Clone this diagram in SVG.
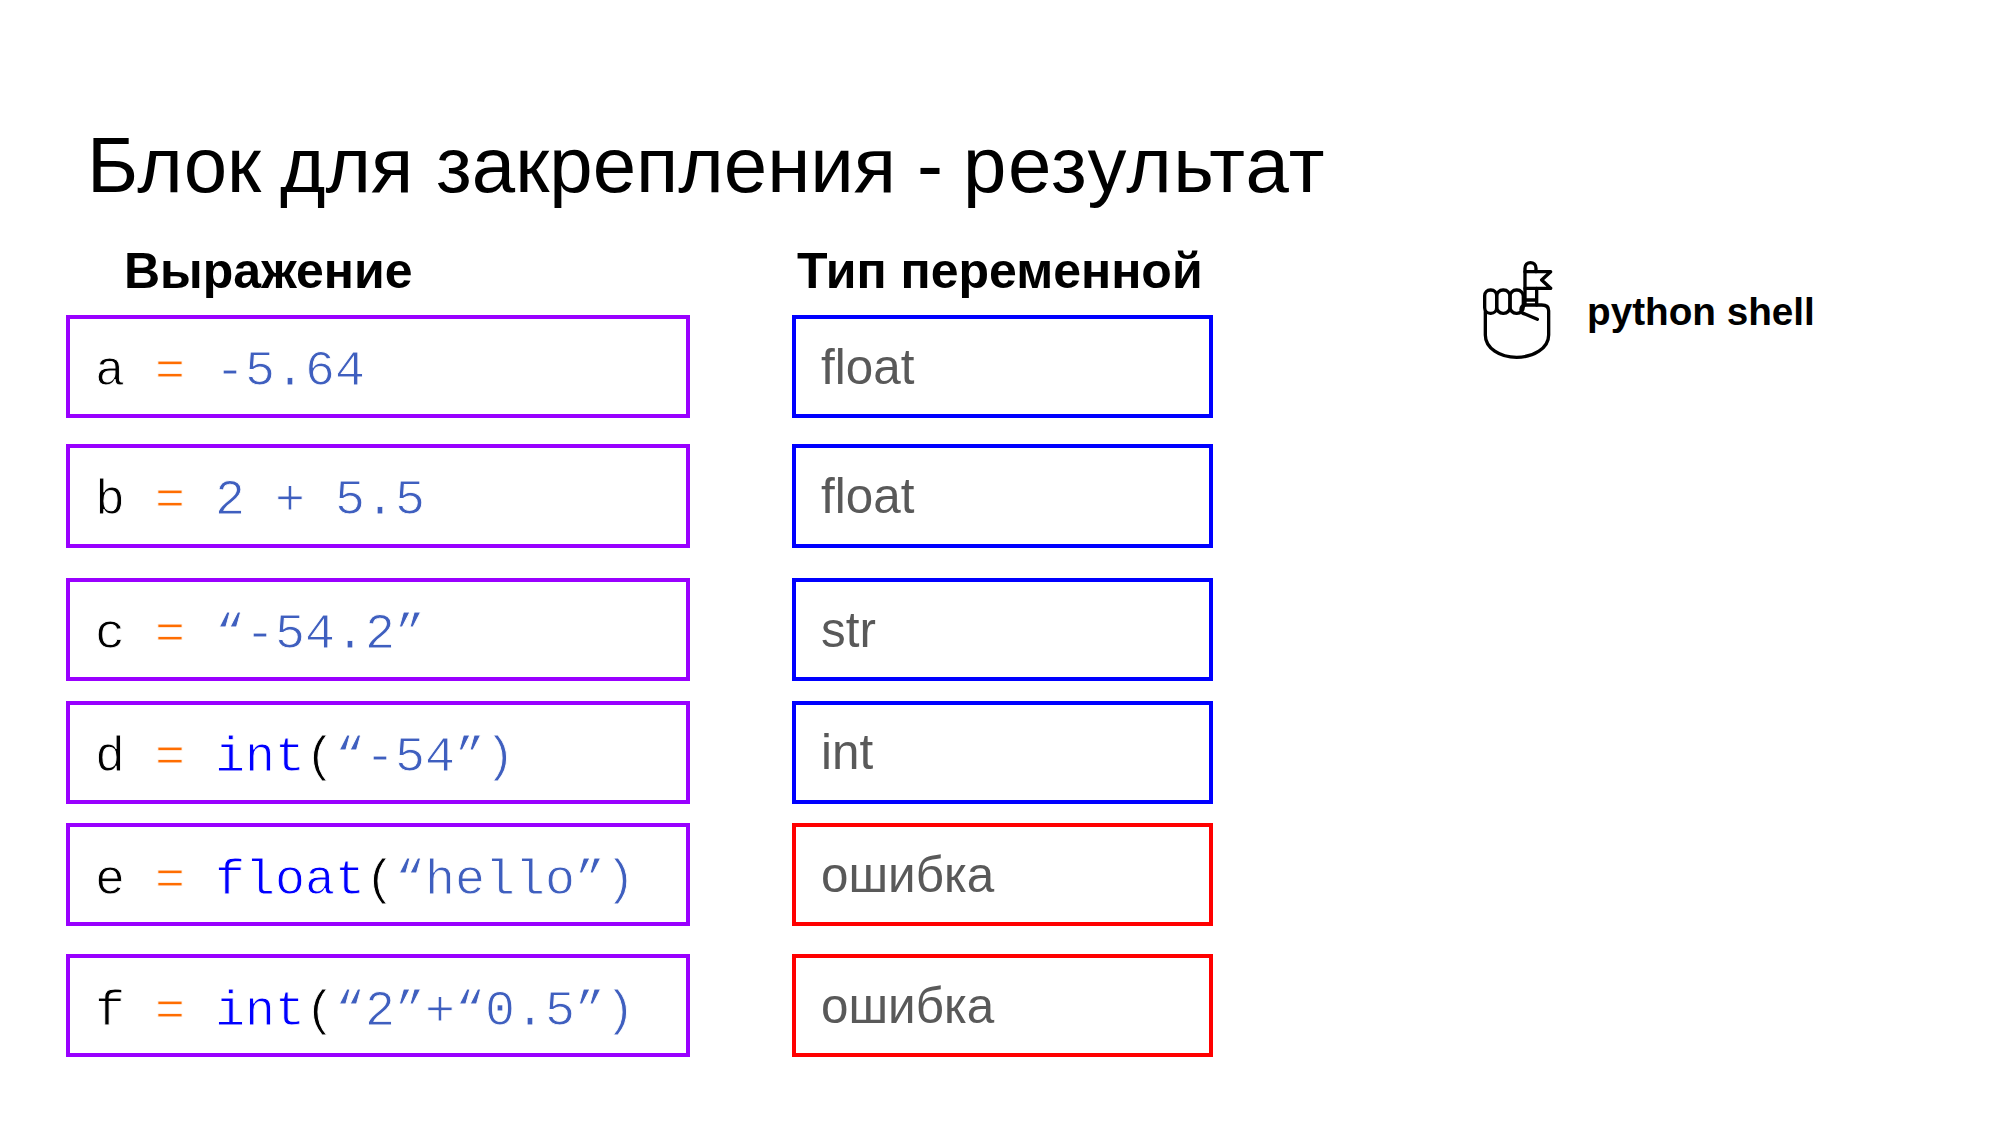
<svg xmlns="http://www.w3.org/2000/svg" width="2000" height="1125" viewBox="0 0 2000 1125">
<style>
text{white-space:pre}
.s{font-family:"Liberation Sans",Arial,sans-serif}
.title{font-size:78px;fill:#000}
.h{font-size:50px;font-weight:bold;fill:#000}
.ps{font-size:38.7px;font-weight:bold;fill:#000}
.t{font-size:49.4px;fill:#595959}
.c{font-family:"Liberation Mono","Courier New",monospace;font-size:50px;fill:#000;stroke:#fff;stroke-width:.9}
.o{fill:#ff6d01}.n{fill:#3f5fbf}.k{fill:#0000ff}
.ex{fill:#fff;stroke:#9900ff;stroke-width:4}
.ty{fill:#fff;stroke:#0000ff;stroke-width:4}
.er{fill:#fff;stroke:#ff0000;stroke-width:4}
.ic{fill:none;stroke:#000;stroke-width:10;stroke-linecap:round;stroke-linejoin:round}
</style>
<rect width="2000" height="1125" fill="#fff"/>
<text class="s title" y="192"><tspan x="87">Блок </tspan><tspan x="280">для </tspan><tspan x="436">закрепления </tspan><tspan x="917">- </tspan><tspan x="963" letter-spacing="1.5">результат</tspan></text>
<text class="s h" x="124" y="288">Выражение</text>
<text class="s h" x="797" y="288">Тип переменной</text>
<g id="connectors"/>
<g id="expr-a"><rect class="ex" x="68" y="317" width="620" height="99"/><text class="c" x="95" y="385">a <tspan class="o">=</tspan> <tspan class="n">-5.64</tspan></text></g>
<g id="expr-b"><rect class="ex" x="68" y="446" width="620" height="100"/><text class="c" x="95" y="514">b <tspan class="o">=</tspan> <tspan class="n">2 + 5.5</tspan></text></g>
<g id="expr-c"><rect class="ex" x="68" y="580" width="620" height="99"/><text class="c" x="95" y="648">c <tspan class="o">=</tspan> <tspan class="n">“-54.2”</tspan></text></g>
<g id="expr-d"><rect class="ex" x="68" y="703" width="620" height="99"/><text class="c" x="95" y="771">d <tspan class="o">=</tspan> <tspan class="k">int</tspan>(<tspan class="n">“-54”)</tspan></text></g>
<g id="expr-e"><rect class="ex" x="68" y="825" width="620" height="99"/><text class="c" x="95" y="894">e <tspan class="o">=</tspan> <tspan class="k">float</tspan>(<tspan class="n">“hello”)</tspan></text></g>
<g id="expr-f"><rect class="ex" x="68" y="956" width="620" height="99"/><text class="c" x="95" y="1025">f <tspan class="o">=</tspan> <tspan class="k">int</tspan>(<tspan class="n">“2”+“0.5”)</tspan></text></g>
<g id="type-a"><rect class="ty" x="794" y="317" width="417" height="99"/><text class="s t" x="821" y="384">float</text></g>
<g id="type-b"><rect class="ty" x="794" y="446" width="417" height="100"/><text class="s t" x="821" y="513">float</text></g>
<g id="type-c"><rect class="ty" x="794" y="580" width="417" height="99"/><text class="s t" x="821" y="647">str</text></g>
<g id="type-d"><rect class="ty" x="794" y="703" width="417" height="99"/><text class="s t" x="821" y="769">int</text></g>
<g id="type-e"><rect class="er" x="794" y="825" width="417" height="99"/><text class="s t" x="821" y="892">ошибка</text></g>
<g id="type-f"><rect class="er" x="794" y="956" width="417" height="99"/><text class="s t" x="821" y="1023">ошибка</text></g>
<g id="python-shell">
<g class="ic" transform="translate(1460 240) scale(.3333)">
<path d="M76 215V285C76 325 120 352 170 352C220 352 266 325 266 285V212C266 200 258 195 245 195H195C180 195 178 220 195 222L232 238"/>
<rect x="74" y="150" width="36" height="70" rx="17"/>
<rect x="110" y="150" width="40" height="70" rx="19"/>
<rect x="150" y="150" width="40" height="70" rx="19"/>
<path d="M195 195V85C195 62 228 62 228 85V95"/>
<path d="M195 95H272L245 120L272 145H195"/>
<path d="M230 145V195M195 180H230"/>
</g>
<text class="s ps" x="1587" y="325">python shell</text>
</g>
</svg>
